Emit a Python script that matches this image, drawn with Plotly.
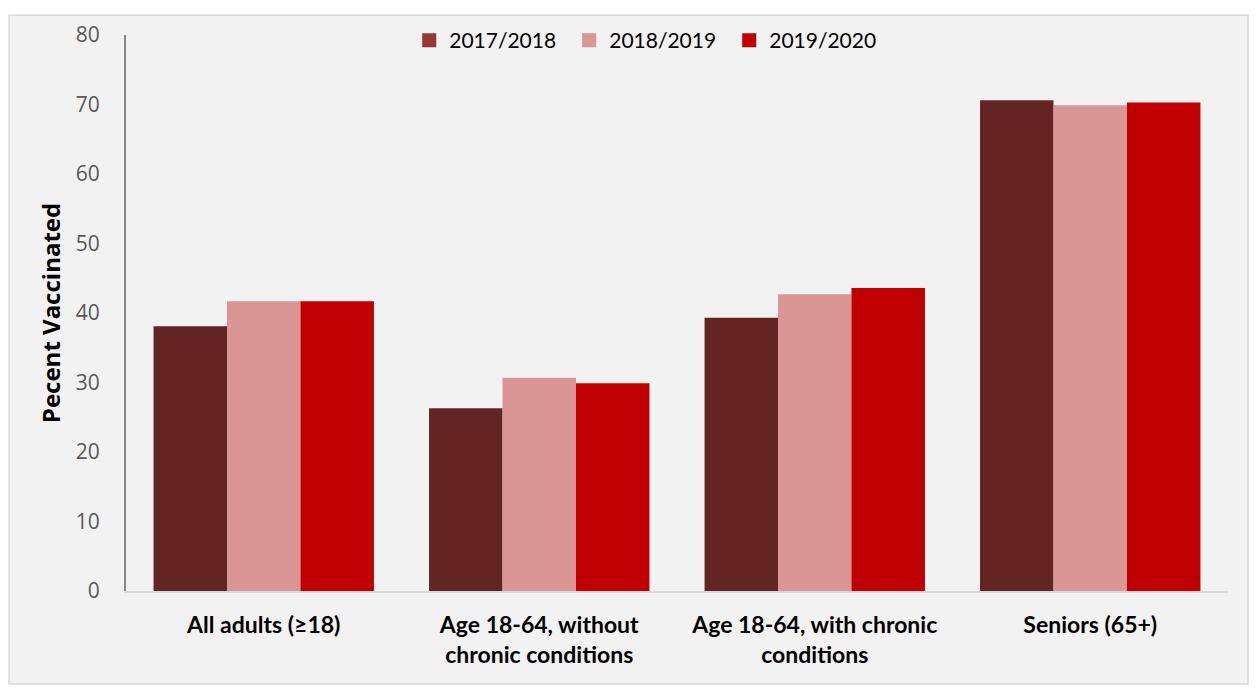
import plotly.graph_objects as go

categories = ["All adults (≥18)", "Age 18-64, without<br>chronic conditions",
              "Age 18-64, with chronic<br>conditions", "Seniors (65+)"]
series_names = ["2017/2018", "2018/2019", "2019/2020"]
v_2017 = [38.1, 26.3, 39.3, 70.6]
v_2018 = [41.7, 30.7, 42.7, 69.9]
v_2019 = [41.7, 29.9, 43.6, 70.3]
colors = ["#632523", "#d99694", "#c00000"]
legend_colors = ["#953735", "#d99694", "#c00000"]
y_ticks = [0, 10, 20, 30, 40, 50, 60, 70, 80]

W, H = 1241, 678
ML, MR, MT, MB = 118, 21, 21, 95
PW, PH = W - ML - MR, H - MT - MB

fig = go.Figure()
for name, vals, c in zip(series_names, [v_2017, v_2018, v_2019], colors):
    fig.add_trace(go.Bar(x=categories, y=vals, name=name, showlegend=False,
                         marker=dict(color=c, line=dict(width=0))))
for name, c in zip(series_names, legend_colors):
    fig.add_trace(go.Scatter(x=[None], y=[None], name=name, mode="markers",
                             marker=dict(symbol="square", size=14, color=c)))

fig.update_layout(
    width=W, height=H,
    margin=dict(l=ML, r=MR, t=MT, b=MB),
    paper_bgcolor="white",
    plot_bgcolor="rgba(0,0,0,0)",
    barmode="group", bargap=0.2, bargroupgap=0,
    font=dict(family="Lato", color="black"),
    legend=dict(orientation="h", x=0.257, xanchor="left", y=0.99, yanchor="middle",
                font=dict(size=21, color="black"), bgcolor="rgba(0,0,0,0)",
                itemwidth=30, entrywidth=115, entrywidthmode="pixels",
                traceorder="normal"),
    shapes=[dict(type="rect", xref="paper", yref="paper",
                 x0=-(ML - 1) / PW, x1=1 + (MR - 1) / PW,
                 y0=-(MB - 1) / PH, y1=1 + (MT - 1) / PH, fillcolor="#f2f2f2",
                 line=dict(color="#d9d9d9", width=1.5), layer="below")],
)
fig.update_yaxes(range=[0, 80], tickvals=y_ticks, showgrid=False, zeroline=False,
                 showline=True, linecolor="#898989", linewidth=2,
                 tickfont=dict(size=21, color="#595959", family="Open Sans"),
                 ticks="", ticklabelstandoff=20,
                 title=dict(text="<b>Pecent Vaccinated</b>",
                            font=dict(size=24, color="black", family="Open Sans"),
                            standoff=8))
fig.update_xaxes(showgrid=False, showline=True, linecolor="#d9d9d9", linewidth=2,
                 tickfont=dict(size=23, color="black"), ticks="", ticklabelstandoff=12,
                 tickprefix="<b>", ticksuffix="</b>")

fig.write_html("out.html")
